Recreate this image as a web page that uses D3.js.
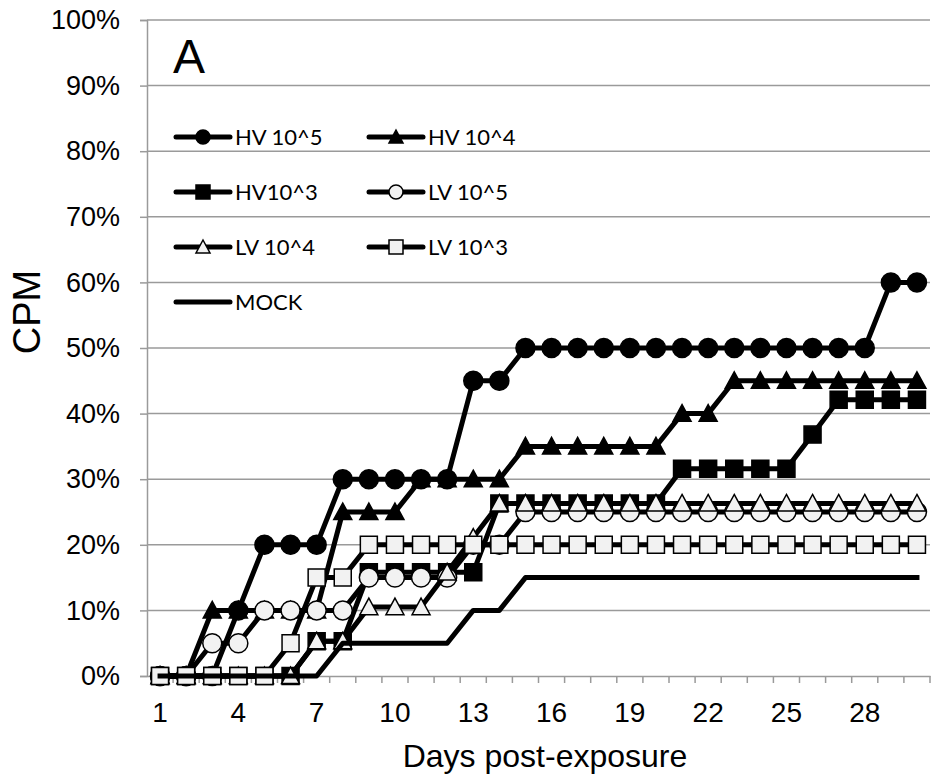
<!DOCTYPE html>
<html><head><meta charset="utf-8">
<script src="https://cdn.jsdelivr.net/npm/d3@7/dist/d3.min.js"></script>
<style>body{margin:0;background:#fff}</style>
</head><body><svg id="c" width="933" height="775"></svg>
<script>
const days = [1,2,3,4,5,6,7,8,9,10,11,12,13,14,15,16,17,18,19,20,21,22,23,24,25,26,27,28,29,30];
const xTickLabels = [1,4,7,10,13,16,19,22,25,28];
const yTicks = [0,10,20,30,40,50,60,70,80,90,100];
const seriesNames = ["HV 10^5","HV 10^4","HV10^3","LV 10^5","LV 10^4","LV 10^3","MOCK"];
const hv5 = [0,0,0,10,20,20,20,30,30,30,30,30,45,45,50,50,50,50,50,50,50,50,50,50,50,50,50,50,60,60];
const hv4 = [0,0,10,10,10,10,10,25,25,25,30,30,30,30,35,35,35,35,35,35,40,40,45,45,45,45,45,45,45,45];
const hv3 = [0,0,0,0,0,0,5.3,5.3,15.8,15.8,15.8,15.8,15.8,26.3,26.3,26.3,26.3,26.3,26.3,26.3,31.6,31.6,31.6,31.6,31.6,36.8,42.1,42.1,42.1,42.1];
const lv5 = [0,0,5,5,10,10,10,10,15,15,15,15,20,20,25,25,25,25,25,25,25,25,25,25,25,25,25,25,25,25];
const lv4 = [0,0,0,0,0,0,5.3,5.3,10.5,10.5,10.5,15.8,21.1,26.3,26.3,26.3,26.3,26.3,26.3,26.3,26.3,26.3,26.3,26.3,26.3,26.3,26.3,26.3,26.3,26.3];
const lv3 = [0,0,0,0,0,5,15,15,20,20,20,20,20,20,20,20,20,20,20,20,20,20,20,20,20,20,20,20,20,20];
const mock = [0,0,0,0,0,0,0,5,5,5,5,5,10,10,15,15,15,15,15,15,15,15,15,15,15,15,15,15,15,15];

const series = [
  {name: seriesNames[0], values: hv5, shape: "circle", fill: "#000"},
  {name: seriesNames[1], values: hv4, shape: "triangle", fill: "#000"},
  {name: seriesNames[2], values: hv3, shape: "square", fill: "#000"},
  {name: seriesNames[3], values: lv5, shape: "circle", fill: "#f2f2f2"},
  {name: seriesNames[4], values: lv4, shape: "triangle", fill: "#f2f2f2"},
  {name: seriesNames[5], values: lv3, shape: "square", fill: "#f2f2f2"},
  {name: seriesNames[6], values: mock, shape: null, fill: null}
];

const L = 147, R = 930, T = 20, B = 676;
const svg = d3.select("#c");
const x = d3.scaleBand().domain(days).range([L, R]);
const y = d3.scaleLinear().domain([0, 100]).range([B, T]);
const cx = d => x(d) + x.bandwidth() / 2;
const gridColor = "#9a9a9a";
const font = "Liberation Sans, Arial, sans-serif";

// gridlines
svg.append("g").selectAll("line").data(yTicks.filter(t => t > 0)).join("line")
  .attr("x1", L).attr("x2", R).attr("y1", d => y(d)).attr("y2", d => y(d))
  .attr("stroke", gridColor).attr("stroke-width", 1.5);

// y axis
const yAxis = svg.append("g").attr("transform", `translate(${L},0)`)
  .call(d3.axisLeft(y).tickValues(yTicks).tickSize(7).tickPadding(20).tickFormat(d => d + "%"));
yAxis.select(".domain").attr("stroke", gridColor).attr("stroke-width", 1.5);
yAxis.selectAll(".tick line").attr("stroke", gridColor).attr("stroke-width", 1.5);
yAxis.selectAll(".tick text").attr("font-family", font)
  .attr("font-size", 27).attr("fill", "#000");

// x axis
const xAxis = svg.append("g").attr("transform", `translate(0,${B})`)
  .call(d3.axisBottom(x).tickValues(xTickLabels).tickSize(0).tickPadding(26));
xAxis.select(".domain").attr("stroke", gridColor).attr("stroke-width", 1.5);
xAxis.selectAll(".tick text").attr("font-family", font)
  .attr("font-size", 28).attr("fill", "#000");
// x tick marks at category boundaries
svg.append("g").selectAll("line").data(days).join("line")
  .attr("x1", d => x(d) + x.bandwidth()).attr("x2", d => x(d) + x.bandwidth())
  .attr("y1", B).attr("y2", B + 7).attr("stroke", gridColor).attr("stroke-width", 1.5);

// axis titles
svg.append("text").attr("x", 545).attr("y", 767).attr("text-anchor", "middle")
  .attr("font-family", font).attr("font-size", 32).text("Days post-exposure");
svg.append("text").attr("transform", "translate(40,312) rotate(-90)").attr("text-anchor", "middle")
  .attr("font-family", font).attr("font-size", 38).text("CPM");
svg.append("text").attr("x", 173).attr("y", 73)
  .attr("font-family", font).attr("font-size", 48).text("A");

function markerPath(shape, s) {
  if (shape === "circle") { const r = s / 2; return `M${-r},0A${r},${r} 0 1,0 ${r},0A${r},${r} 0 1,0 ${-r},0Z`; }
  if (shape === "square") { const h = s / 2; return `M${-h},${-h}H${h}V${h}H${-h}Z`; }
  if (shape === "triangle") { const h = s / 2; return `M0,${-s*0.5}L${h},${s*0.42}L${-h},${s*0.42}Z`; }
  return "";
}
const sizes = {circle: 19, square: 17, triangle: 18};

const line = d3.line().x((v, i) => cx(days[i])).y(v => y(v));
series.forEach(s => {
  const g = svg.append("g");
  g.append("path").attr("d", line(s.values)).attr("fill", "none").attr("stroke", "#000")
    .attr("stroke-width", 5).attr("stroke-linejoin", "round").attr("stroke-linecap", "square");
  if (s.shape) {
    g.selectAll("path.m").data(s.values).join("path").attr("class", "m")
      .attr("transform", (v, i) => `translate(${cx(days[i])},${y(v)})`)
      .attr("d", markerPath(s.shape, sizes[s.shape]))
      .attr("fill", s.fill).attr("stroke", "#000").attr("stroke-width", 1.5);
  }
});

// legend
const legendRows = [137, 192, 247, 302];
const legendCols = [176, 369];
series.forEach((s, i) => {
  const col = i % 2, row = Math.floor(i / 2);
  const lx = legendCols[col], ly = legendRows[row];
  const g = svg.append("g");
  g.append("line").attr("x1", lx).attr("x2", lx + 54).attr("y1", ly).attr("y2", ly)
    .attr("stroke", "#000").attr("stroke-width", 5).attr("stroke-linecap", "round");
  if (s.shape) {
    g.append("path").attr("transform", `translate(${lx + 27},${ly})`)
      .attr("d", markerPath(s.shape, 14)).attr("fill", s.fill).attr("stroke", "#000").attr("stroke-width", 1.5);
  }
  g.append("text").attr("x", lx + 59).attr("y", ly + 8)
    .attr("font-family", "Lato, Carlito, Calibri, sans-serif").attr("font-size", 22).text(s.name);
});
</script></body></html>
